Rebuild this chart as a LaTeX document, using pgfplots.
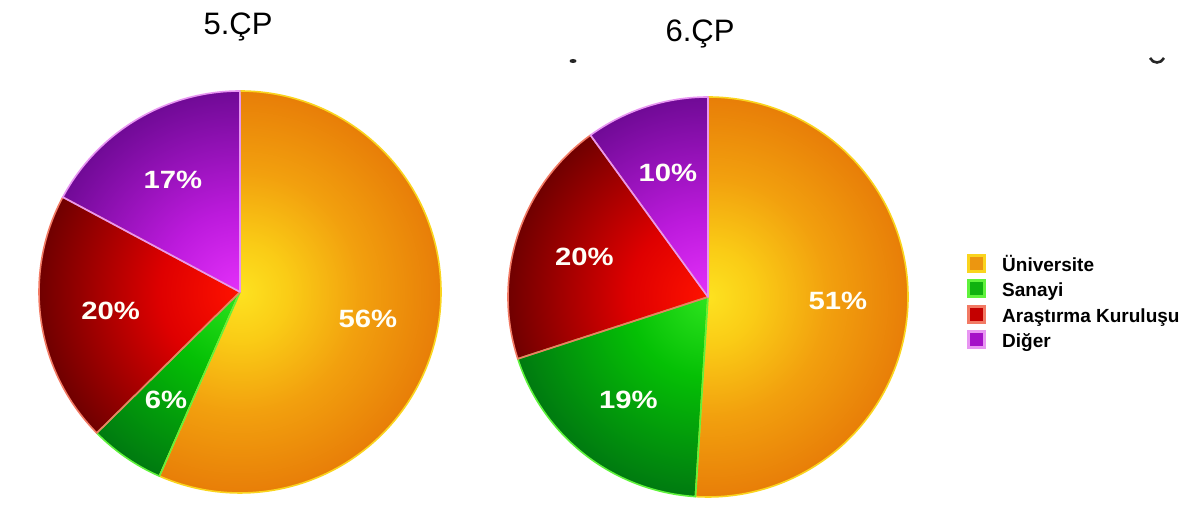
\documentclass[border=0pt]{standalone}
\usepackage{pgfplots}
\pgfplotsset{compat=1.18}
\usepackage{fontspec}
\setmainfont{Liberation Sans}
\usepackage{graphicx}

% shading colours
\definecolor{uA}{RGB}{253,226,32}\definecolor{uB}{RGB}{250,204,22}\definecolor{uC}{RGB}{242,160,14}\definecolor{uD}{RGB}{232,126,8}
\definecolor{sA}{RGB}{45,228,30}\definecolor{sB}{RGB}{5,192,5}\definecolor{sC}{RGB}{0,122,16}
\definecolor{aA}{RGB}{255,18,0}\definecolor{aB}{RGB}{222,0,0}\definecolor{aC}{RGB}{112,0,0}
\definecolor{dA}{RGB}{228,48,250}\definecolor{dB}{RGB}{188,26,220}\definecolor{dC}{RGB}{112,10,150}
% edge colours
\definecolor{uE}{RGB}{250,212,30}\definecolor{sE}{RGB}{95,242,60}\definecolor{aE}{RGB}{242,122,100}\definecolor{dE}{RGB}{232,150,242}
% legend fill colours
\definecolor{uL}{RGB}{236,150,16}\definecolor{sL}{RGB}{16,178,16}\definecolor{aL}{RGB}{196,0,0}\definecolor{dL}{RGB}{165,18,200}

\pgfdeclareradialshading{shU}{\pgfpoint{0bp}{0bp}}{color(0bp)=(uA); color(6bp)=(uB); color(15bp)=(uC); color(25bp)=(uD); color(50bp)=(uD)}
\pgfdeclareradialshading{shS}{\pgfpoint{0bp}{0bp}}{color(0bp)=(sA); color(10bp)=(sB); color(25bp)=(sC); color(50bp)=(sC)}
\pgfdeclareradialshading{shA}{\pgfpoint{0bp}{0bp}}{color(0bp)=(aA); color(10bp)=(aB); color(25bp)=(aC); color(50bp)=(aC)}
\pgfdeclareradialshading{shD}{\pgfpoint{0bp}{0bp}}{color(0bp)=(dA); color(10bp)=(dB); color(25bp)=(dC); color(50bp)=(dC)}

% #1 cx, #2 cy (axis units), #3 R (axis unit = 1pt), #4 list value/shading/edge colour (clockwise from 12 o'clock)
\newcommand\drawpie[4]{%
  \pgfplotspointaxisxy{#1}{#2}\pgfgetlastxy{\px}{\py}%
  \def\R{#3}%
  \xdef\tot{0}%
  \foreach \val/\sh/\bc in {#4}{\pgfmathsetmacro\tmp{\tot+\val}\xdef\tot{\tmp}}%
  \xdef\curang{90}%
  \foreach \val/\sh/\bc in {#4}{%
    \pgfmathsetmacro\sAng{\curang}\pgfmathsetmacro\eAng{\curang-\val/\tot*360}%
    \begin{scope}
      \clip (\px,\py) -- ++(\sAng:\R pt) arc[start angle=\sAng, end angle=\eAng, radius=\R pt] -- cycle;
      \shade[shading=\sh] (\px,\py) circle[radius=\R pt];
    \end{scope}
    \xdef\curang{\eAng}}%
  \xdef\curang{90}%
  \foreach \val/\sh/\bc in {#4}{%
    \pgfmathsetmacro\sAng{\curang}\pgfmathsetmacro\eAng{\curang-\val/\tot*360}%
    \draw[\bc, line width=1.6pt, line join=round] (\px,\py) -- ++(\sAng:\R pt) arc[start angle=\sAng, end angle=\eAng, radius=\R pt] -- cycle;
    \xdef\curang{\eAng}}%
  \xdef\curang{90}%
  \foreach \val/\sh/\bc in {#4}{%
    \pgfmathsetmacro\sAng{\curang}\pgfmathsetmacro\eAng{\curang-\val/\tot*360}%
    \pgfmathsetmacro\mAng{(\sAng+\eAng)/2}\pgfmathsetmacro\lr{0.65*\R}%
    \path (\px,\py) ++(\mAng:\lr pt) node[text=white!97!yellow, inner sep=0pt]
      {\scalebox{1.17}[1]{\fontsize{25}{25}\selectfont\bfseries \val\%}};
    \xdef\curang{\eAng}}%
}

\begin{document}
\begin{tikzpicture}
\begin{axis}[
  width=1190pt, height=526pt, scale only axis,
  xmin=0, xmax=1190, ymin=0, ymax=526,
  hide axis, clip=false]

% full picture frame (for the page size)
\path (axis cs:0,0) rectangle (axis cs:1190,526);

% 5.ÇP : Üniversite, Sanayi, Araştırma Kuruluşu, Diğer
\pgfplotsextra{\drawpie{240}{234}{201}{56/shU/uE, 6/shS/sE, 20/shA/aE, 17/shD/dE}}
% 6.ÇP
\pgfplotsextra{\drawpie{708}{229}{200}{51/shU/uE, 19/shS/sE, 20/shA/aE, 10/shD/dE}}

% titles
\node[anchor=base, inner sep=0pt, font=\fontsize{31}{31}\selectfont] at (axis cs:238,491) {5.ÇP};
\node[anchor=base, inner sep=0pt, font=\fontsize{31}{31}\selectfont] at (axis cs:700,484) {6.ÇP};

% small cut-off marks at the top of the reference
\fill[black!85] (axis cs:573,465) ellipse[x radius=3.5pt, y radius=2pt];
\draw[black!85, line width=2.6pt] (axis cs:1150,468) .. controls (axis cs:1153,462) and (axis cs:1161,462) .. (axis cs:1164,468);

% legend
\draw[uE, fill=uL, line width=3pt] (axis cs:968,254) rectangle (axis cs:984,270);
\draw[sE, fill=sL, line width=3pt] (axis cs:968,229) rectangle (axis cs:984,245);
\draw[aE, fill=aL, line width=3pt] (axis cs:968,203) rectangle (axis cs:984,219);
\draw[dE, fill=dL, line width=3pt] (axis cs:968,178) rectangle (axis cs:984,194);
\node[anchor=base west, inner sep=0pt, font=\bfseries\fontsize{19}{19}\selectfont] at (axis cs:1002,254.5) {Üniversite};
\node[anchor=base west, inner sep=0pt, font=\bfseries\fontsize{19}{19}\selectfont] at (axis cs:1002,229.5) {Sanayi};
\node[anchor=base west, inner sep=0pt, font=\bfseries\fontsize{19}{19}\selectfont] at (axis cs:1002,203.5) {Araştırma Kuruluşu};
\node[anchor=base west, inner sep=0pt, font=\bfseries\fontsize{19}{19}\selectfont] at (axis cs:1002,178.5) {Diğer};
\end{axis}
\end{tikzpicture}
\end{document}
